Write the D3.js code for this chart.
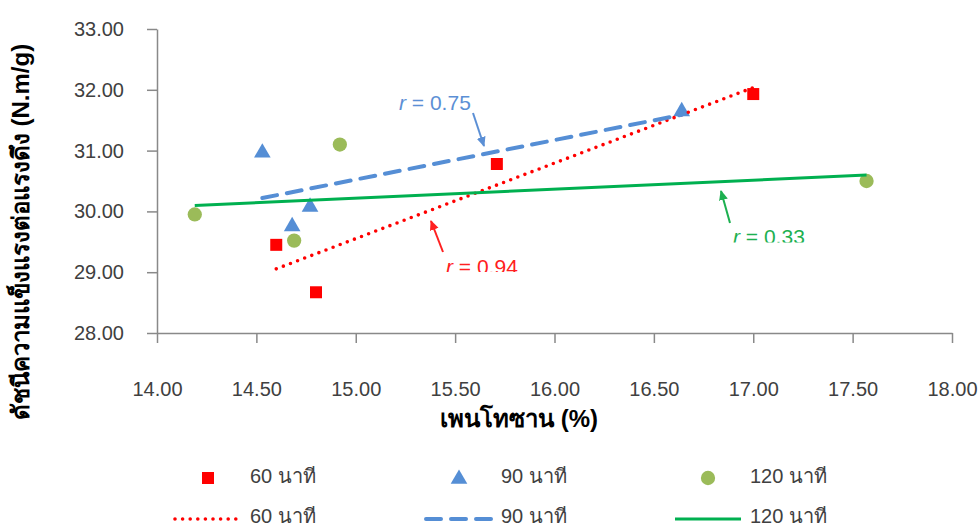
<!DOCTYPE html>
<html>
<head>
<meta charset="utf-8">
<script src="https://cdn.jsdelivr.net/npm/d3@7/dist/d3.min.js"></script>
<style>
  html, body { margin: 0; padding: 0; background: #fff; }
  svg { display: block; }
  text { font-family: "Liberation Sans", Arial, "Noto Sans", sans-serif; }
</style>
</head>
<body>
<div id="chart"></div>
<script>
// Series names (minutes)
const categories = ["60 นาที", "90 นาที", "120 นาที"];

// Pentosan content (%) and tensile index (N.m/g) for each series
const x60  = [14.60, 14.80, 15.71, 17.00];
const y60  = [29.45, 28.67, 30.78, 31.93];
const x90  = [14.53, 14.68, 14.77, 16.64];
const y90  = [30.98, 29.77, 30.09, 31.66];
const x120 = [14.19, 14.69, 14.92, 17.57];
const y120 = [29.95, 29.52, 31.10, 30.50];

// Axis ticks
const xTicks = [14.0, 14.5, 15.0, 15.5, 16.0, 16.5, 17.0, 17.5, 18.0];
const yTicks = [28, 29, 30, 31, 32, 33];

const xTitle = "เพนโทซาน (%)";
const yTitle = "ดัชนีความแข็งแรงต่อแรงดึง (N.m/g)";

const W = 980, H = 528;
const plotL = 157, plotR = 952, plotT = 29, plotB = 333;

const svg = d3.select("#chart").append("svg")
  .attr("width", W).attr("height", H);

const x = d3.scaleLinear().domain([14, 18]).range([plotL, plotR]);
const y = d3.scaleLinear().domain([28, 33]).range([plotB, plotT]);

const axisColor = "#898989";
const textColor = "#404040";

// Axes
const gx = svg.append("g").attr("transform", `translate(0,${plotB})`)
  .call(d3.axisBottom(x).tickValues(xTicks).tickSize(10).tickSizeOuter(0)
    .tickPadding(39).tickFormat(d3.format(".2f")));
const gy = svg.append("g").attr("transform", `translate(${plotL},0)`)
  .call(d3.axisLeft(y).tickValues(yTicks).tickSize(10).tickSizeOuter(0)
    .tickPadding(23).tickFormat(d3.format(".2f")));
[gx, gy].forEach(g => {
  g.selectAll("path, line").attr("stroke", axisColor).attr("stroke-width", 1.5);
  g.selectAll("text").attr("fill", textColor).style("font-size", "20px")
    .style("font-family", "'Liberation Sans', Arial, sans-serif");
});

// Axis titles
svg.append("text")
  .attr("x", 519).attr("y", 427)
  .attr("text-anchor", "middle")
  .attr("font-weight", "bold").attr("font-size", 24)
  .attr("fill", "#000")
  .text(xTitle);
svg.append("text")
  .attr("transform", "translate(29,232) rotate(-90)")
  .attr("text-anchor", "middle")
  .attr("font-weight", "bold").attr("font-size", 24)
  .attr("fill", "#000")
  .text(yTitle);

// Least-squares fit and Pearson r
function fit(xs, ys) {
  const mx = d3.mean(xs), my = d3.mean(ys);
  let sxy = 0, sxx = 0, syy = 0;
  xs.forEach((v, i) => {
    const dx = v - mx, dy = ys[i] - my;
    sxy += dx * dy; sxx += dx * dx; syy += dy * dy;
  });
  const slope = sxy / sxx;
  return {
    slope, intercept: my - slope * mx,
    r: sxy / Math.sqrt(sxx * syy),
    x0: d3.min(xs), x1: d3.max(xs)
  };
}

const series = [
  { name: categories[0], xs: x60,  ys: y60,  marker: "square",   mColor: "#FF0000", lColor: "#FF0000",
    lw: 3.6, dash: "0,7.6", cap: "round" },
  { name: categories[1], xs: x90,  ys: y90,  marker: "triangle", mColor: "#558ED5", lColor: "#558ED5",
    lw: 4, dash: "15,10", cap: "round" },
  { name: categories[2], xs: x120, ys: y120, marker: "circle",   mColor: "#9BBB59", lColor: "#00B050",
    lw: 3, dash: null, cap: "butt" }
];
series.forEach(s => s.fit = fit(s.xs, s.ys));

const symbolType = { square: d3.symbolSquare, triangle: d3.symbolTriangle, circle: d3.symbolCircle };
const symbolSize = { square: 144, triangle: 120, circle: 160 };

function drawMarker(g, s, cx, cy) {
  g.append("path")
    .attr("d", d3.symbol().type(symbolType[s.marker]).size(symbolSize[s.marker])())
    .attr("transform", `translate(${cx},${cy + (s.marker === "triangle" ? 1 : 0)})`)
    .attr("fill", s.mColor);
}

// Data markers
const gm = svg.append("g");
series.forEach(s => {
  s.xs.forEach((v, i) => drawMarker(gm, s, x(v), y(s.ys[i])));
});

// Trend lines
const gl = svg.append("g");
series.forEach(s => {
  const f = s.fit;
  const line = gl.append("line")
    .attr("x1", x(f.x0)).attr("y1", y(f.intercept + f.slope * f.x0))
    .attr("x2", x(f.x1)).attr("y2", y(f.intercept + f.slope * f.x1))
    .attr("stroke", s.lColor).attr("stroke-width", s.lw)
    .attr("stroke-linecap", s.cap);
  if (s.dash) line.attr("stroke-dasharray", s.dash);
});

// Correlation callouts
const defs = svg.append("defs");
const notes = [
  { s: series[1], color: "#5B8FD5", tx: 399, ty: 110, clip: null,  a: [473, 113, 484, 146] },
  { s: series[0], color: "#FF2020", tx: 446, ty: 274, clip: 272,   a: [443, 252, 431, 221] },
  { s: series[2], color: "#1DB050", tx: 733, ty: 244, clip: 242.5, a: [730, 223, 721, 191] }
];
notes.forEach((n, i) => {
  defs.append("marker").attr("id", "ah" + i)
    .attr("viewBox", "0 0 10 10").attr("refX", 9).attr("refY", 5)
    .attr("markerUnits", "userSpaceOnUse")
    .attr("markerWidth", 10).attr("markerHeight", 10)
    .attr("orient", "auto")
    .append("path").attr("d", "M0,0.5 L10,5 L0,9.5 Z").attr("fill", n.color);
  svg.append("line")
    .attr("x1", n.a[0]).attr("y1", n.a[1]).attr("x2", n.a[2]).attr("y2", n.a[3])
    .attr("stroke", n.color).attr("stroke-width", 2)
    .attr("marker-end", `url(#ah${i})`);
  const t = svg.append("text")
    .attr("x", n.tx).attr("y", n.ty)
    .attr("font-size", 21).attr("fill", n.color);
  t.append("tspan").attr("font-style", "italic").text("r");
  t.append("tspan").text(" = " + d3.format(".2f")(n.s.fit.r));
  if (n.clip !== null) {
    defs.append("clipPath").attr("id", "cp" + i)
      .append("rect").attr("x", n.tx - 10).attr("y", n.ty - 30)
      .attr("width", 120).attr("height", n.clip - (n.ty - 30));
    t.attr("clip-path", `url(#cp${i})`);
  }
});

// Legend: markers on the first row, trend lines on the second
const legendX = [173, 424, 673];
const legendRows = [478, 519];
series.forEach((s, i) => {
  const lx = legendX[i];
  const g = svg.append("g");
  drawMarker(g, s, lx + 35, legendRows[0]);
  g.append("text").attr("x", lx + 77).attr("y", legendRows[0] + 5)
    .attr("font-size", 20).attr("fill", textColor).text(s.name);
  const ln = g.append("line")
    .attr("x1", lx + 2).attr("x2", lx + 68)
    .attr("y1", legendRows[1]).attr("y2", legendRows[1])
    .attr("stroke", s.lColor).attr("stroke-width", s.lw)
    .attr("stroke-linecap", s.cap);
  if (s.dash) ln.attr("stroke-dasharray", s.dash);
  g.append("text").attr("x", lx + 77).attr("y", legendRows[1] + 4)
    .attr("font-size", 20).attr("fill", textColor).text(s.name);
});
</script>
</body>
</html>
